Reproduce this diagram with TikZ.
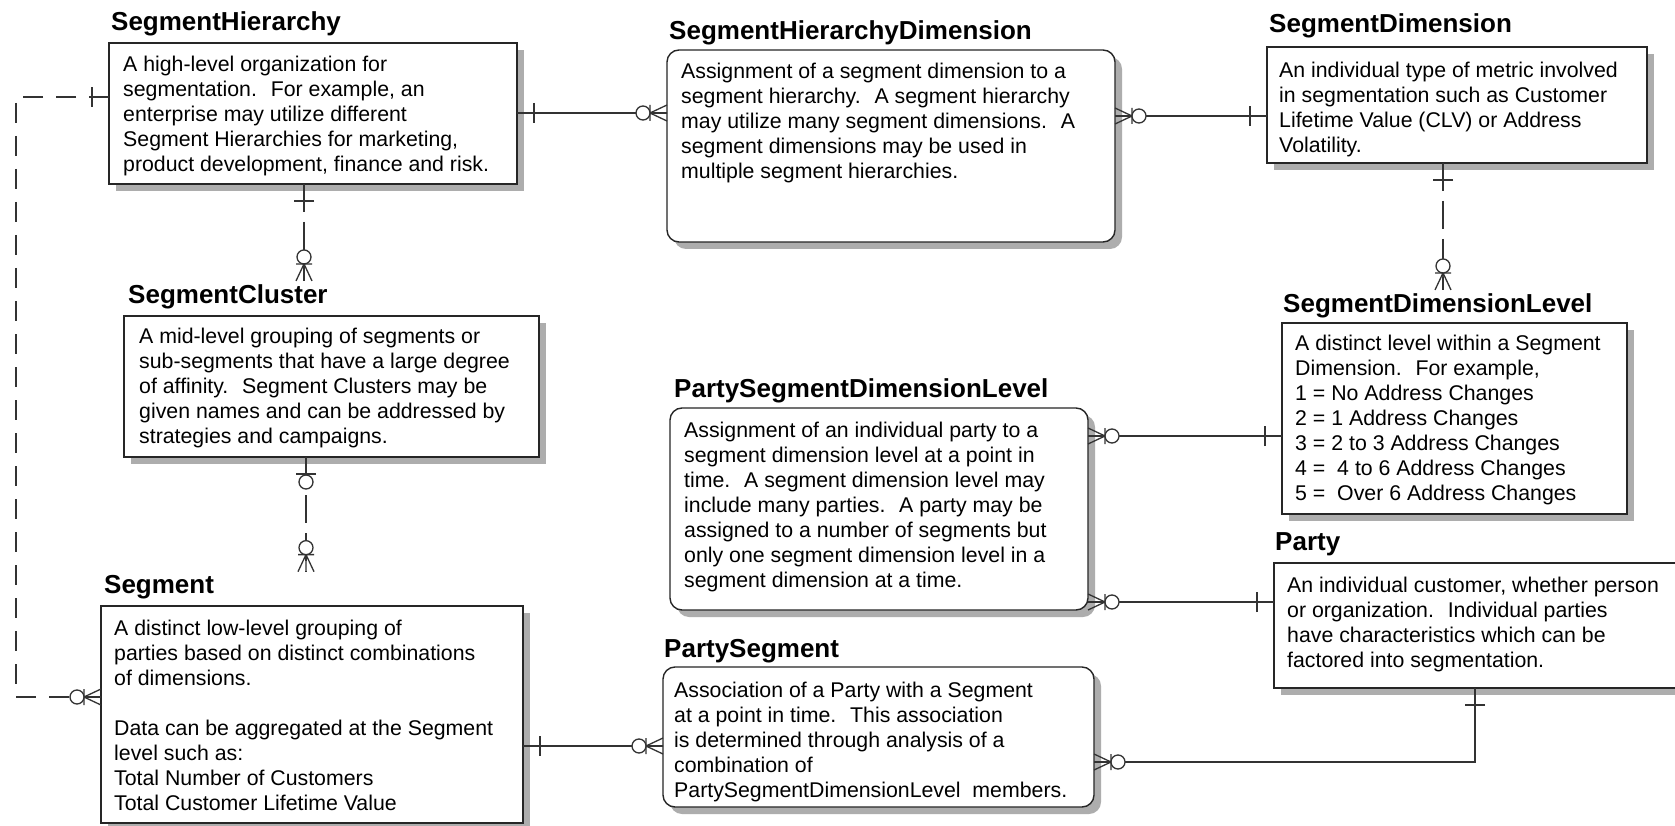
\documentclass[tikz,border=0pt]{standalone}
\usepackage{fontspec}
\setmainfont{Liberation Sans}
\usetikzlibrary{shadows}
\begin{document}
\begin{tikzpicture}[x=1pt,y=-1pt,
  entity/.style={draw=black!85, line width=1.4pt, fill=white, inner sep=0pt, outer sep=0pt,
    anchor=north west,
    drop shadow={shadow xshift=7pt, shadow yshift=-7pt, fill=black!32, opacity=1}},
  assoc/.style={entity, rounded corners=12pt},
  title/.style={font=\bfseries\fontsize{26pt}{30pt}\selectfont, anchor=base west, inner sep=0pt},
  body/.style={font=\fontsize{21.3pt}{25pt}\selectfont, anchor=north west, align=left,
    inner sep=0pt, execute at begin node={\rule{0pt}{16pt}}},
  rel/.style={draw=black!80, line width=1.3pt},
  nonid/.style={rel, dash pattern=on 28pt off 10pt},
  longdash/.style={rel, dash pattern=on 20pt off 13pt},
  mark line/.style={draw=black!80, line width=1.3pt},
  onebar/.pic={\draw[mark line] (17,-10) -- (17,10);},
  zeroone/.pic={\draw[mark line] (17,-10) -- (17,10);
                \draw[mark line, fill=white] (25,0) circle (7);},
  zeromany/.pic={\draw[mark line] (0,-8) -- (17,0) -- (0,8) (0,0) -- (17,0) (17,-8) -- (17,8);
                 \draw[mark line, fill=white] (24,0) circle (7);}
]
\useasboundingbox (0,0) rectangle (1675,826);
\fill[white] (0,0) rectangle (1675,826);

% ---------- entities ----------
\node[entity, minimum width=408pt, minimum height=141pt] (sh) at (109,43) {};
\node[title] (shT) at (111,31) {SegmentHierarchy};
\node[body] (shB) at (123,56) {A high-level organization for\\
segmentation.~ For example, an\\
enterprise may utilize different\\
Segment Hierarchies for marketing,\\
product development, finance and risk.};

\node[assoc, minimum width=448pt, minimum height=192pt] (shd) at (667,50) {};
\node[title] (shdT) at (669,40) {SegmentHierarchyDimension};
\node[body] (shdB) at (681,63) {Assignment of a segment dimension to a\\
segment hierarchy.~ A segment hierarchy\\
may utilize many segment dimensions.~ A\\
segment dimensions may be used in\\
multiple segment hierarchies.};

\node[entity, minimum width=380pt, minimum height=116pt] (sd) at (1267,47) {};
\node[title] (sdT) at (1269,33) {SegmentDimension};
\node[body] (sdB) at (1279,62) {An individual type of metric involved\\
in segmentation such as Customer\\
Lifetime Value (CLV) or Address\\
Volatility.};

\node[entity, minimum width=415pt, minimum height=141pt] (sc) at (124,316) {};
\node[title] (scT) at (128,303) {SegmentCluster};
\node[body] (scB) at (139,328) {A mid-level grouping of segments or\\
sub-segments that have a large degree\\
of affinity.~ Segment Clusters may be\\
given names and can be addressed by\\
strategies and campaigns.};

\node[entity, minimum width=345pt, minimum height=191pt] (sdl) at (1282,323) {};
\node[title] (sdlT) at (1283,312) {SegmentDimensionLevel};
\node[body] (sdlB) at (1295,335) {A distinct level within a Segment\\
Dimension.~ For example,\\
1 = No Address Changes\\
2 = 1 Address Changes\\
3 = 2 to 3 Address Changes\\
4 =~ 4 to 6 Address Changes\\
5 =~ Over 6 Address Changes};

\node[assoc, minimum width=418pt, minimum height=202pt] (psdl) at (670,408) {};
\node[title] (psdlT) at (674,397) {PartySegmentDimensionLevel};
\node[body] (psdlB) at (684,422) {Assignment of an individual party to a\\
segment dimension level at a point in\\
time.~ A segment dimension level may\\
include many parties.~ A party may be\\
assigned to a number of segments but\\
only one segment dimension level in a\\
segment dimension at a time.};

\node[entity, minimum width=430pt, minimum height=125pt] (party) at (1274,563) {};
\node[title] (partyT) at (1275,550) {Party};
\node[body] (partyB) at (1287,577) {An individual customer, whether person\\
or organization.~ Individual parties\\
have characteristics which can be\\
factored into segmentation.};

\node[entity, minimum width=422pt, minimum height=217pt] (seg) at (101,606) {};
\node[title] (segT) at (104,593) {Segment};
\node[body] (segB) at (114,620) {A distinct low-level grouping of\\
parties based on distinct combinations\\
of dimensions.\\[25pt]
Data can be aggregated at the Segment\\
level such as:\\
Total Number of Customers\\
Total Customer Lifetime Value};

\node[assoc, minimum width=431pt, minimum height=140pt] (ps) at (663,667) {};
\node[title] (psT) at (664,657) {PartySegment};
\node[body] (psB) at (674,682) {Association of a Party with a Segment\\
at a point in time.~ This association\\
is determined through analysis of a\\
combination of\\
PartySegmentDimensionLevel~ members.};

% ---------- routing guides ----------
\coordinate (r1) at (0,113);
\coordinate (r2) at (0,116);
\coordinate (c3) at (304,0);
\coordinate (c4) at (306,0);
\coordinate (c5) at (1443,0);
\coordinate (r6) at (0,436);
\coordinate (r7) at (0,602);
\coordinate (r8) at (0,746);
\coordinate (r9) at (0,762);
\coordinate (c9) at (1475,0);
\coordinate (lt) at (16,97);
\coordinate (lb) at (16,697);

% ---------- relationships ----------
% SegmentHierarchy -- SegmentHierarchyDimension
\draw[rel] (sh.east |- r1) -- (shd.west |- r1);
\pic at (sh.east |- r1) {onebar};
\pic[rotate=180] at (shd.west |- r1) {zeromany};

% SegmentHierarchyDimension -- SegmentDimension
\draw[rel] (shd.east |- r2) -- (sd.west |- r2);
\pic at (shd.east |- r2) {zeromany};
\pic[rotate=180] at (sd.west |- r2) {onebar};

% SegmentHierarchy -- SegmentCluster
\draw[nonid] (sh.south -| c3) -- ([yshift=3pt]scT.north -| c3);
\pic[rotate=-90] at (sh.south -| c3) {onebar};
\pic[rotate=90] at ([yshift=3pt]scT.north -| c3) {zeromany};

% SegmentCluster -- Segment
\draw[nonid] (sc.south -| c4) -- ([yshift=3pt]segT.north -| c4);
\pic[rotate=-90] at (sc.south -| c4) {zeroone};
\pic[rotate=90] at ([yshift=3pt]segT.north -| c4) {zeromany};

% SegmentDimension -- SegmentDimensionLevel
\draw[nonid] (sd.south -| c5) -- ([yshift=3pt]sdlT.north -| c5);
\pic[rotate=-90] at (sd.south -| c5) {onebar};
\pic[rotate=90] at ([yshift=3pt]sdlT.north -| c5) {zeromany};

% PartySegmentDimensionLevel -- SegmentDimensionLevel
\draw[rel] (psdl.east |- r6) -- (sdl.west |- r6);
\pic at (psdl.east |- r6) {zeromany};
\pic[rotate=180] at (sdl.west |- r6) {onebar};

% PartySegmentDimensionLevel -- Party
\draw[rel] (psdl.east |- r7) -- (party.west |- r7);
\pic at (psdl.east |- r7) {zeromany};
\pic[rotate=180] at (party.west |- r7) {onebar};

% Segment -- PartySegment
\draw[rel] (seg.east |- r8) -- (ps.west |- r8);
\pic at (seg.east |- r8) {onebar};
\pic[rotate=180] at (ps.west |- r8) {zeromany};

% PartySegment -- Party
\draw[rel] (ps.east |- r9) -| (party.south -| c9);
\pic at (ps.east |- r9) {zeromany};
\pic[rotate=-90] at (party.south -| c9) {onebar};

% SegmentHierarchy -- Segment (recursive grouping)
\draw[longdash] (sh.west |- lt) -- (lt) -- (lb) -- (seg.west |- lb);
\pic[rotate=180] at (sh.west |- lt) {onebar};
\pic[rotate=180] at (seg.west |- lb) {zeromany};
\end{tikzpicture}
\end{document}
